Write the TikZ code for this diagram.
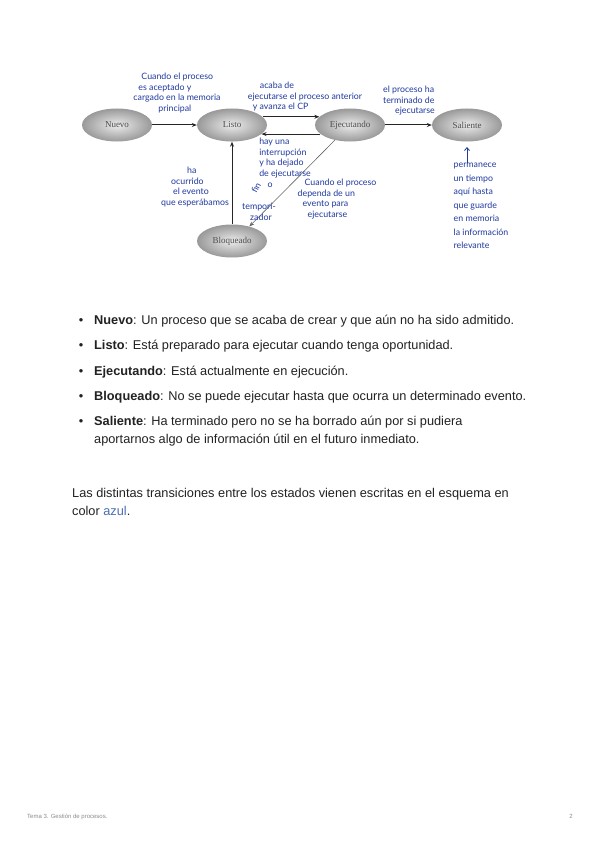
\documentclass[tikz,border=0pt]{standalone}
\usepackage{fontspec}
\setmainfont{Liberation Sans}
\newfontfamily\stfont{Liberation Serif}
\newfontfamily\handfont{Lato}
\usetikzlibrary{shapes.geometric,arrows.meta}
\definecolor{handblue}{RGB}{32,58,158}
\definecolor{linkblue}{RGB}{74,110,180}
\definecolor{txt}{RGB}{34,34,34}
\tikzset{
  state/.style={ellipse, shade, inner color=gray!15, outer color=gray!80,
    minimum width=70pt, minimum height=33pt, inner sep=0pt,
    font=\stfont\fontsize{9}{10}\selectfont, text=black!70},
  arr/.style={draw=black!85, line width=1pt, -{Stealth[length=5pt,width=4pt]}},
  thinarr/.style={draw=black!60, line width=0.6pt, -{Stealth[length=5pt,width=4pt]}},
  hand/.style={text=handblue, font=\handfont\fontsize{8.8}{10.5}\selectfont,
    align=left, inner sep=0pt},
  body/.style={text=txt, font=\fontsize{12.75}{15}\selectfont, anchor=base west, inner sep=0pt},
}
\begin{document}
\begin{tikzpicture}[x=1pt,y=-1pt]
\useasboundingbox[fill=white] (0,0) rectangle (600,848);
% states
\node[state] (nuevo) at (117,125) {Nuevo};
\node[state] (listo) at (232,125) {Listo};
\node[state] (ejec) at (350,125) {Ejecutando};
\node[state] (sal) at (467,125) {Saliente};
\node[state] (bloq) at (232,241) {Bloqueado};
% transitions
\draw[arr] (nuevo) -- (listo);
\draw[arr] (listo.15) -- (ejec.165);
\draw[arr] (ejec.197) -- (listo.-17);
\draw[arr] (ejec) -- (sal);
\draw[arr] (bloq) -- (listo);
\draw[thinarr] (ejec.225) -- (bloq.40);
\coordinate (sa) at (467,163);
\coordinate (sb) at (467,147);
\draw[handblue, line width=0.8pt, -{Straight Barb[length=3pt,width=5pt]}] (sa) -- (sb);
% handwritten annotations
\node[hand] (h1) at (177,93) {\hspace{8pt}Cuando el proceso\\\hspace{5pt}es aceptado y\\cargado en la memoria\\\hspace{25pt}principal};
\node[hand] (h2) at (305,97) {\hspace{12pt}acaba de\\ejecutarse el proceso anterior\\\hspace{5pt}y avanza el CP};
\node[hand] (h3) at (409,101) {el proceso ha\\terminado de\\\hspace{12pt}ejecutarse};
\node[hand] (h4) at (285,158) {hay una\\interrupción\\y ha dejado\\de ejecutarse};
\node[hand, rotate=60] (h4b) at (256,188) {fin};
\node[hand] (h4c) at (270,185) {o};
\node[hand] (h4d) at (259,212) {tempori-\\\hspace{8pt}zador};
\node[hand] (h5) at (195,187) {\hspace{26pt}ha\\\hspace{10pt}ocurrido\\\hspace{12pt}el evento\\que esperábamos};
\node[hand] (h6) at (337,199) {\hspace{7pt}Cuando el proceso\\dependa de un\\\hspace{5pt}evento para\\\hspace{10pt}ejecutarse};
\node[hand, font=\handfont\fontsize{8.8}{13.5}\selectfont] (h7) at (481,206) {permanece\\un tiempo\\aquí hasta\\que guarde\\en memoria\\la información\\relevante};
% bullet list
\foreach \yy in {324,349,375,400,425} \node[body, anchor=base] at (81,\yy) {•};
\node[body] (b1) at (94,324) {\textbf{Nuevo}: Un proceso que se acaba de crear y que aún no ha sido admitido.};
\node[body] (b2) at (94,349) {\textbf{Listo}: Está preparado para ejecutar cuando tenga oportunidad.};
\node[body] (b3) at (94,375) {\textbf{Ejecutando}: Está actualmente en ejecución.};
\node[body] (b4) at (94,400) {\textbf{Bloqueado}: No se puede ejecutar hasta que ocurra un determinado evento.};
\node[body] (b5) at (94,425) {\textbf{Saliente}: Ha terminado pero no se ha borrado aún por si pudiera};
\node[body] (b6) at (94,443) {aportarnos algo de información útil en el futuro inmediato.};
\node[body] (p1) at (72,497) {Las distintas transiciones entre los estados vienen escritas en el esquema en};
\node[body] (p2) at (72,515) {color \textcolor{linkblue}{azul}.};
% footer
\node[anchor=base west, inner sep=0pt, text=black!45, font=\fontsize{6}{7}\selectfont] (f1) at (27,818) {Tema 3. Gestión de procesos.};
\node[anchor=base east, inner sep=0pt, text=black!45, font=\fontsize{6}{7}\selectfont] (f2) at (573,818) {2};
\end{tikzpicture}
\end{document}
